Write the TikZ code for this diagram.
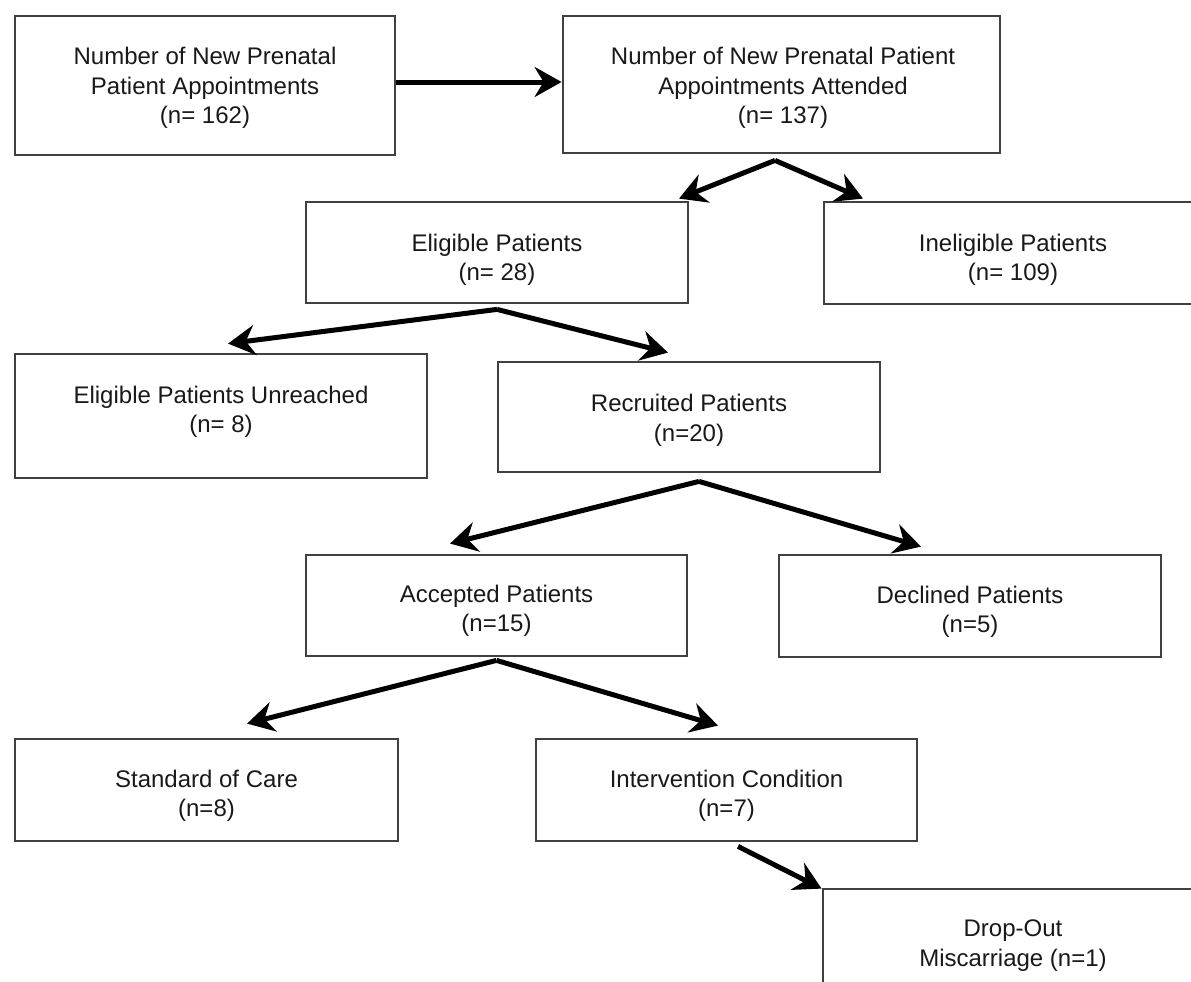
\documentclass[tikz,border=0pt]{standalone}
\usepackage{fontspec}
\setmainfont{Liberation Sans}
\usetikzlibrary{arrows.meta,calc}
\begin{document}
\begin{tikzpicture}[x=1pt,y=-1pt,
  flowbox/.style={draw=black!75, line width=2.8pt, rectangle, inner sep=0pt, fill=white},
  flowtext/.style={inner sep=0pt, align=center, text=black!90, font=\fontsize{24}{29.5}\selectfont},
  arr/.style={draw=black, line width=5pt, -{Stealth[length=27pt 0 0,width=30pt 0 0,inset=9pt 0 0]}}]
\useasboundingbox (0,0) rectangle (1191,982);
\clip (0,0) rectangle (1191,982);
\fill[white] (0,0) rectangle (1191,982);
% boxes
\node[flowbox, minimum width=380pt, minimum height=139pt] (b1) at (205,85.5) {};
\node[flowbox, minimum width=437pt, minimum height=137pt] (b2) at (781.5,84.5) {};
\node[flowbox, minimum width=382pt, minimum height=101pt] (elig) at (497,252.5) {};
\node[flowbox, minimum width=378pt, minimum height=102pt] (inel) at (1013,253) {};
\node[flowbox, minimum width=412pt, minimum height=124pt] (unre) at (221,416) {};
\node[flowbox, minimum width=382pt, minimum height=110pt] (recr) at (689,417) {};
\node[flowbox, minimum width=381pt, minimum height=101pt] (acc) at (496.5,605.5) {};
\node[flowbox, minimum width=382pt, minimum height=102pt] (decl) at (970,606) {};
\node[flowbox, minimum width=383pt, minimum height=102pt] (soc) at (206.5,790) {};
\node[flowbox, minimum width=381pt, minimum height=102pt] (intv) at (726.5,790) {};
\node[flowbox, minimum width=378pt, minimum height=102pt] (drop) at (1012,940) {};
% texts
\node[flowtext] (t1) at (205,88) {Number of New Prenatal\\Patient Appointments\\(n= 162)};
\node[flowtext] (t2) at (783,88) {Number of New Prenatal Patient\\Appointments Attended\\(n= 137)};
\node[flowtext] (t3) at (497,260) {Eligible Patients\\(n= 28)};
\node[flowtext] (t4) at (1013,260) {Ineligible Patients\\(n= 109)};
\node[flowtext] (t5) at (221,412) {Eligible Patients Unreached\\(n= 8)};
\node[flowtext] (t6) at (689,420.5) {Recruited Patients\\(n=20)};
\node[flowtext] (t7) at (496.5,611) {Accepted Patients\\(n=15)};
\node[flowtext] (t8) at (970,612) {Declined Patients\\(n=5)};
\node[flowtext] (t9) at (206.5,796) {Standard of Care\\(n=8)};
\node[flowtext] (t10) at (726.5,796) {Intervention Condition\\(n=7)};
\node[flowtext] (t11) at (1013,945.5) {Drop-Out\\Miscarriage (n=1)};
% arrows
\draw[arr] ($(b1.east)+(0,-3.5)$) -- ($(b2.west)+(0,-2.5)$);
\draw[arr] ($(b2.south)+(-6.5,6)$) -- ($(elig.north)+(182,-2)$);
\draw[arr] ($(b2.south)+(-6.5,6)$) -- ($(inel.north)+(-150,-2)$);
\draw[arr] ($(elig.south)+(0,5)$) -- ($(unre.north)+(7,-9)$);
\draw[arr] ($(elig.south)+(0,5)$) -- ($(recr.north)+(-21,-8)$);
\draw[arr] ($(recr.south)+(10,8)$) -- ($(acc.north)+(-46.5,-10)$);
\draw[arr] ($(recr.south)+(10,8)$) -- ($(decl.north)+(-49,-7)$);
\draw[arr] ($(acc.south)+(0,3)$) -- ($(soc.north)+(40.5,-14)$);
\draw[arr] ($(acc.south)+(0,3)$) -- ($(intv.north)+(-8.5,-12)$);
\draw[arr] ($(intv.south)+(11.5,4)$) -- ($(drop.north west)+(0,1)$);
\end{tikzpicture}
\end{document}
